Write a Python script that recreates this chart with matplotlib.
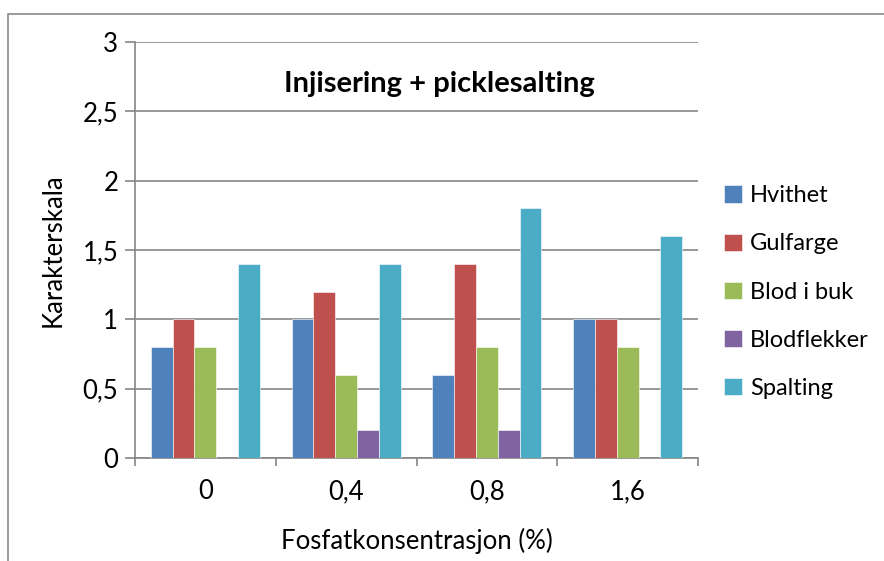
import numpy as np
import matplotlib
matplotlib.use('Agg')
import matplotlib.pyplot as plt
from matplotlib.patches import Rectangle

categories = ['0', '0,4', '0,8', '1,6']
series_names = ['Hvithet', 'Gulfarge', 'Blod i buk', 'Blodflekker', 'Spalting']
hvithet = [0.8, 1.0, 0.6, 1.0]
gulfarge = [1.0, 1.2, 1.4, 1.0]
blod_i_buk = [0.8, 0.6, 0.8, 0.8]
blodflekker = [0.0, 0.2, 0.2, 0.0]
spalting = [1.4, 1.4, 1.8, 1.6]
colors = ['#4F81BD', '#C0504D', '#9BBB59', '#8064A2', '#4BACC6']
yticks = [0, 0.5, 1, 1.5, 2, 2.5, 3]
ytick_labels = ['0', '0,5', '1', '1,5', '2', '2,5', '3']

plt.rcParams['font.family'] = ['Lato', 'DejaVu Sans']

W, H = 884, 561
fig = plt.figure(figsize=(W / 100, H / 100), dpi=100)
ax = fig.add_axes([135 / W, 1 - 458 / H, (698 - 135) / W, (458 - 42) / H])

# outer chart frame (cut off at right and bottom)
fig.patches.append(Rectangle((8 / W, -0.1), 1.2, 1 - 14 / H + 0.1, transform=fig.transFigure,
                             fill=False, edgecolor='#8a8a8a', linewidth=1.2))

all_series = [hvithet, gulfarge, blod_i_buk, blodflekker, spalting]
x = np.arange(len(categories))
bw = 0.155
for i, (name, vals) in enumerate(zip(series_names, all_series)):
    ax.bar(x + (i - 2) * bw, vals, width=bw, color=colors[i], label=name,
           edgecolor='white', linewidth=0.4, zorder=3)

ax.set_xlim(-0.5, 3.5)
ax.set_ylim(0, 3)
ax.set_yticks(yticks)
ax.set_yticklabels(ytick_labels)
ax.set_xticks(x)
ax.set_xticklabels(categories)
ax.set_xticks(np.arange(-0.5, 4, 1), minor=True)
ax.tick_params(axis='x', which='major', length=0, labelsize=18.5, pad=15)
ax.tick_params(axis='x', which='minor', length=6, color='#868686', width=1.2)
ax.tick_params(axis='y', length=7, color='#868686', width=1.2, labelsize=18.5, pad=5)
ax.yaxis.grid(True, color='#868686', linewidth=1.2, zorder=0)

for s in ['top', 'right']:
    ax.spines[s].set_visible(False)
for s in ['left', 'bottom']:
    ax.spines[s].set_color('#868686')
    ax.spines[s].set_linewidth(1.2)

ax.set_ylabel('Karakterskala', fontsize=18.5, labelpad=12)
ax.set_xlabel('Fosfatkonsentrasjon (%)', fontsize=18.5, labelpad=17)
ax.text(0.54, 0.9, 'Injisering + picklesalting', transform=ax.transAxes,
        ha='center', va='center', fontsize=21, fontweight='bold')

fig.legend(loc='upper left', bbox_to_anchor=(703 / W, 1 - 164 / H), frameon=False,
           fontsize=17, handlelength=0.75, handleheight=0.75, labelspacing=1.15,
           handletextpad=0.35)

fig.savefig('out.png', dpi=100)
